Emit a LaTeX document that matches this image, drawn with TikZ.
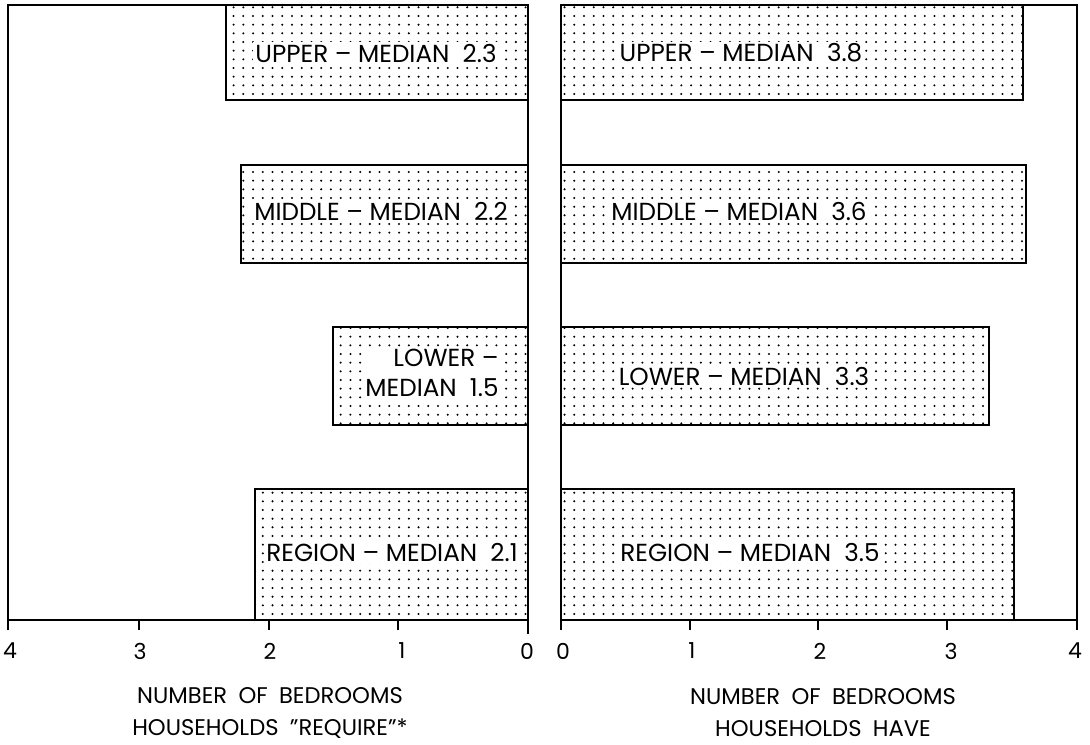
\documentclass[tikz,border=0pt]{standalone}
\usepackage{fontspec}
\setmainfont{Poppins}
\usetikzlibrary{patterns.meta}

\pgfdeclarepattern{
  name=bedroomdots,
  type=uncolored,
  bottom left={\pgfpoint{-3.65pt}{-3.25pt}},
  top right={\pgfpoint{3.65pt}{3.25pt}},
  tile size={\pgfpoint{7.3pt}{6.5pt}},
  code={\pgfpathcircle{\pgfpointorigin}{0.85pt}\pgfusepath{fill}}
}

\tikzset{
  frame/.style={line width=1.9pt},
  bar/.style={line width=1.3pt, pattern=bedroomdots},
  barlabel/.style={fill=white, inner sep=1.5pt, align=center, font=\fontsize{18.5}{23}\selectfont},
  ticklabel/.style={font=\fontsize{16.5}{20}\selectfont},
  axistitle/.style={align=center, font=\fontsize{17}{24}\selectfont}
}

\begin{document}
\begin{tikzpicture}[x=0.75pt,y=-0.75pt]
\useasboundingbox (0,0) rectangle (1090,744);

% left panel: bedrooms required
\draw[bar] (226,5) rectangle (528,100);
\draw[bar] (241,165) rectangle (528,263);
\draw[bar] (333,327) rectangle (528,425);
\draw[bar] (255,489) rectangle (528,620);
\draw[frame] (8,630) -- (8,5) -- (528,5) -- (528,634);
\draw[frame] (8,620) -- (528,620);
\draw[frame] (139,620) -- (139,630);
\draw[frame] (269,620) -- (269,630);
\draw[frame] (398,620) -- (398,630);

% right panel: bedrooms they have
\draw[bar] (561,5) rectangle (1023,100);
\draw[bar] (561,165) rectangle (1026,263);
\draw[bar] (561,327) rectangle (989,425);
\draw[bar] (561,489) rectangle (1014,620);
\draw[frame] (561,630) -- (561,5) -- (1077,5) -- (1077,630);
\draw[frame] (561,620) -- (1077,620);
\draw[frame] (690,620) -- (690,630);
\draw[frame] (818,620) -- (818,630);
\draw[frame] (947,620) -- (947,630);

% bar labels
\node[barlabel] (lupper) at (376,53) {UPPER -- MEDIAN\ \ 2.3};
\node[barlabel] (lmiddle) at (381,211) {MIDDLE -- MEDIAN\ \ 2.2};
\node[barlabel, align=right] (llower) at (432,373) {LOWER --\\MEDIAN\ \ 1.5};
\node[barlabel] (lregion) at (392,552) {REGION -- MEDIAN\ \ 2.1};
\node[barlabel] (rupper) at (741,53) {UPPER -- MEDIAN\ \ 3.8};
\node[barlabel] (rmiddle) at (739,211) {MIDDLE -- MEDIAN\ \ 3.6};
\node[barlabel] (rlower) at (744,376) {LOWER -- MEDIAN\ \ 3.3};
\node[barlabel] (rregion) at (750,552) {REGION -- MEDIAN\ \ 3.5};

% axis numbers
\node[ticklabel] (l4) at (10,651) {4};
\node[ticklabel] (l3) at (140,651) {3};
\node[ticklabel] (l2) at (270,651) {2};
\node[ticklabel] (l1) at (402,651) {1};
\node[ticklabel] (l0) at (527,651) {0};
\node[ticklabel] (r0) at (563,651) {0};
\node[ticklabel] (r1) at (692,651) {1};
\node[ticklabel] (r2) at (820,651) {2};
\node[ticklabel] (r3) at (951,651) {3};
\node[ticklabel] (r4) at (1075,651) {4};

% axis titles
\node[axistitle] (ltitle) at (270,713) {NUMBER\enspace OF\enspace BEDROOMS\\HOUSEHOLDS\enspace ''REQUIRE''*};
\node[axistitle] (rtitle) at (823,713) {NUMBER\enspace OF\enspace BEDROOMS\\HOUSEHOLDS\enspace HAVE};
\end{tikzpicture}
\end{document}
